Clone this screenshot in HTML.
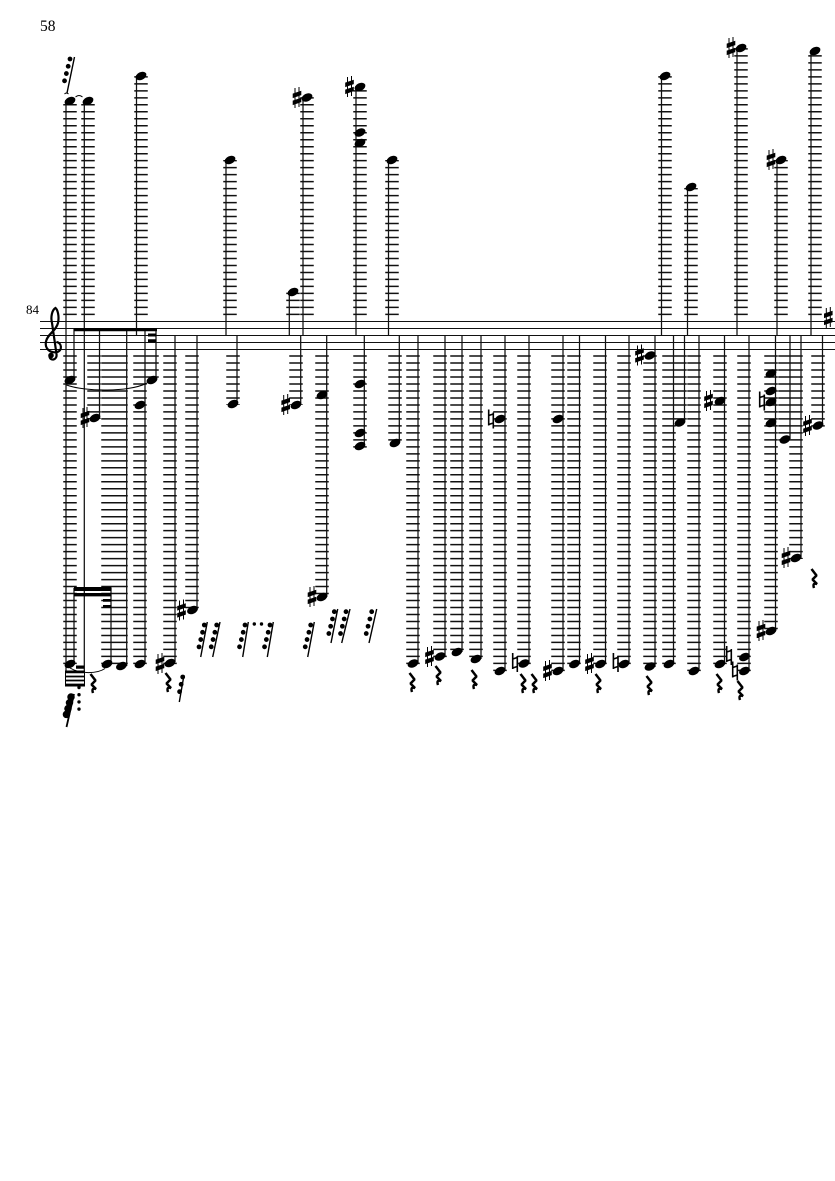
<!DOCTYPE html>
<html><head><meta charset="utf-8"><title>Score page 58</title>
<style>
html,body{margin:0;padding:0;background:#fff}
svg{position:absolute;left:0;top:0;display:block}
marker{overflow:visible}
polyline{fill:none;stroke:none}
text{font-family:"Liberation Serif",serif;fill:#000}
</style></head>
<body>
<svg width="835" height="1181" viewBox="0 0 835 1181" xmlns="http://www.w3.org/2000/svg">
<defs>
<marker id="n" markerUnits="userSpaceOnUse" markerWidth="20" markerHeight="20" refX="0" refY="0" orient="0"><ellipse rx="5.7" ry="3.8" transform="rotate(-25)" fill="#000"/></marker>
<marker id="sh" markerUnits="userSpaceOnUse" markerWidth="20" markerHeight="30" refX="0" refY="0" orient="0"><path d="M-2-10v20M2-11v20M-3.8-4l7.6-2.6v3.4l-7.6 2.6zM-3.8 3l7.6-2.6v3.4l-7.6 2.6z" stroke="#000" fill="#000"/></marker>
<marker id="na" markerUnits="userSpaceOnUse" markerWidth="20" markerHeight="30" refX="0" refY="0" orient="0"><path d="M-2.3-9v16M2.3-6v16M-2.3-3l4.6-1.5M-2.3 6l4.6-1.5" stroke="#000" stroke-width="1.6" fill="none"/></marker>
<marker id="re" markerUnits="userSpaceOnUse" markerWidth="20" markerHeight="30" refX="0" refY="0" orient="0"><path d="M-2.5-10l5 6.5-4 4 4.5 4.5c-2.5-.8-4.5-.3-3 4" stroke="#000" stroke-width="2.5" fill="none" stroke-linejoin="bevel"/></marker>
</defs>
<rect width="835" height="1181" fill="#fff"/>
<text x="40" y="31" font-size="15.5">58</text>
<text x="26" y="314" font-size="13">84</text>

<path stroke="#111" stroke-width=".9" fill="none" d="M40 321.5H835M40 328.5H835M40 335.5H835M40 342.5H835M40 349.5H835"/>

<path stroke="#111" stroke-width="13.5" stroke-dasharray="1.5 5.485" fill="none" d="M70 315.1V104M88 315.1V104M141 315.1V76M230 315.1V160M293 315.1V292M307 315.1V97M360 315.1V90M392 315.1V160M665 315.1V76M691 315.1V188M741 315.1V48M781 315.1V160M815 315.1V55"/>

<path stroke="#111" stroke-width="13.5" stroke-dasharray="1.5 5.485" fill="none" d="M70 355.3V665M94 355.3V419M108 355.3V665M121 355.3V665M140 355.3V665M152 355.3V381M170 355.3V665M192 355.3V611M233 355.3V405M296 355.3V405M322 355.3V597M360 355.3V448M395 355.3V444M413 355.3V665M440 355.3V658M457 355.3V651M476 355.3V658M500 355.3V672M524 355.3V665M558 355.3V672M574 355.3V665M600 355.3V665M624 355.3V665M650 355.3V665M669 355.3V665M680 355.3V424M694 355.3V672M720 355.3V665M744 355.3V672M771 355.3V632M785 355.3V441M796 355.3V559M818 355.3V427"/>

<path stroke="#111" stroke-width="1.25" fill="none" d="M66 100V671M84.3 100V672M136.5 76V335M226 160V335M289.3 292V335M303 97V335M356 87V335M388.5 160V335M661.5 76V335M687.5 187V335M737 48V335M777 160V335M811 50V335M74 329V380M74 588V664M99.5 329V418M111 588V664M126.7 329V666M145 329V664M156 329V380M175 335V662M197 335V610M237 335V404M300.7 335V405M326.7 335V597M364.3 335V446M399.3 335V443M418 335V663M445 335V656M462 335V652M481 335V659M505 335V671M529 335V663M563 335V671M579.5 335V664M605.5 335V664M629 335V664M655 335V667M673.5 335V664M684.5 335V423M699 335V671M724.5 335V664M749 335V671M775.5 335V631M790 335V439M801 335V558M822.5 335V426"/>

<path fill="#000" d="M74 328h83v3.2h-83zM148 333.5h8.5v3h-8.5zM148 339.3h8.5v3h-8.5zM74 587h37.5v4h-37.5zM74 593h37.5v3.4h-37.5zM103 599h8.5v2.8h-8.5zM103 605h8.5v2.8h-8.5zM76 665.5h8.5v3.2h-8.5z"/>
<path d="M65.5 671H84.5V686H65.5Z" fill="#fff" stroke="#000"/>
<path fill="#000" d="M65.5 670.6h19v2.6h-19zM65.5 675.6h19v1.8h-19zM65.5 679.6h19v1.8h-19zM65.5 683.6h19v2.8h-19z"/>

<path fill="none" stroke="#000" d="M66.5 385C85 392 130 392 147 383M70 668C80 674 97 674 105 668.5M75.5 97Q79 94 82.5 97M64.5 94Q66.5 92 68.5 94"/>

<polyline marker-start="url(#n)" marker-mid="url(#n)" marker-end="url(#n)" points="70,101 88,101 141,76 230,160 293,292 307,97.5 360,87 360,132.5 360,143 392,160 665,76 691,187 741,48 781,160 815,51 70,380 152,380 95,418 140,405 70,664 107,664 121.5,666 140,664 170,663 192.5,610 233,404 296,405 322,395 322,597 360,384 360,433 360,446 395,443 413,663.5 440,656.5 457,652 476,659 500,419 500,671 524,663.5 558,419 558,671 574.5,664 600.5,664 624,664 650,355.5 650,666.5 669,664 680,422.5 694,671 720,401 720,664 744.5,657 744.5,671 771,373.5 771,391 771,402 771,423 771,631 785,439.5 796,558 818,425.5"/>

<polyline marker-start="url(#sh)" marker-mid="url(#sh)" marker-end="url(#sh)" points="297,98 349.5,87 731,48 771,160 828.3,318 85,418 160,664 181.5,610.5 285.7,405 312,597 429.5,657 547.5,671 589.5,664 639.5,355.5 708.5,401 761,631 786,558 807.5,426"/>

<polyline marker-start="url(#na)" marker-mid="url(#na)" marker-end="url(#na)" points="491,418.5 515,662 615.7,662 729,655 735,670.5 762,400.5"/>

<polyline marker-start="url(#re)" marker-mid="url(#re)" marker-end="url(#re)" points="93,684 168,683 412,683 438,676 474,680 523,684 534,684 598,684 649,686 719,684 740,691 814,579"/>

<path stroke="#000" stroke-width="1.4" fill="none" d="M67 93L74.5 57M200.7 657L207.3 622M212.7 657L220 622M242.7 657L248.3 622M267.3 657L273.3 622M307.7 657L314.3 622M331 643L337.7 609M341.7 643L350 609M369 643L376.7 609M179.3 702L184 675"/>
<path stroke="#000" stroke-width="1.8" fill="none" d="M66.5 727L74 694"/>

<path stroke="#000" stroke-width="4.8" stroke-linecap="round" stroke-dasharray="0 7.5" fill="none" d="M70 59L64.5 81M204.3 625L199 647M216.7 625L211.2 647M245 625L239.5 647M270 625L264.5 647M310.7 625L305.2 647M334.3 611.7L328.8 633.7M346 611.7L340.5 633.7M371.7 611.7L366.2 633.7M182.7 677L179.5 692"/>
<path stroke="#000" stroke-width="7.5" stroke-linecap="round" stroke-dasharray="0 6" fill="none" d="M71 697L65 720"/>

<path stroke="#000" stroke-width="3.4" stroke-linecap="round" stroke-dasharray="0 7.2" fill="none" d="M79 687.5V710M254.3 624H262"/>

<path d="M56.5 342C61.5 342.5 63 350.5 57 352C50 353.5 44.5 348.5 46 341.5C47.5 334 56 331 58 323C59.5 316 57.5 309.5 55.5 308C52 310 50.5 317 52 323L56.5 354C57.5 360.5 49.5 361.5 49.5 356" fill="none" stroke="#000" stroke-width="2.2"/>
<circle cx="51" cy="355.5" r="2.8" fill="#000"/>
</svg>
</body></html>
